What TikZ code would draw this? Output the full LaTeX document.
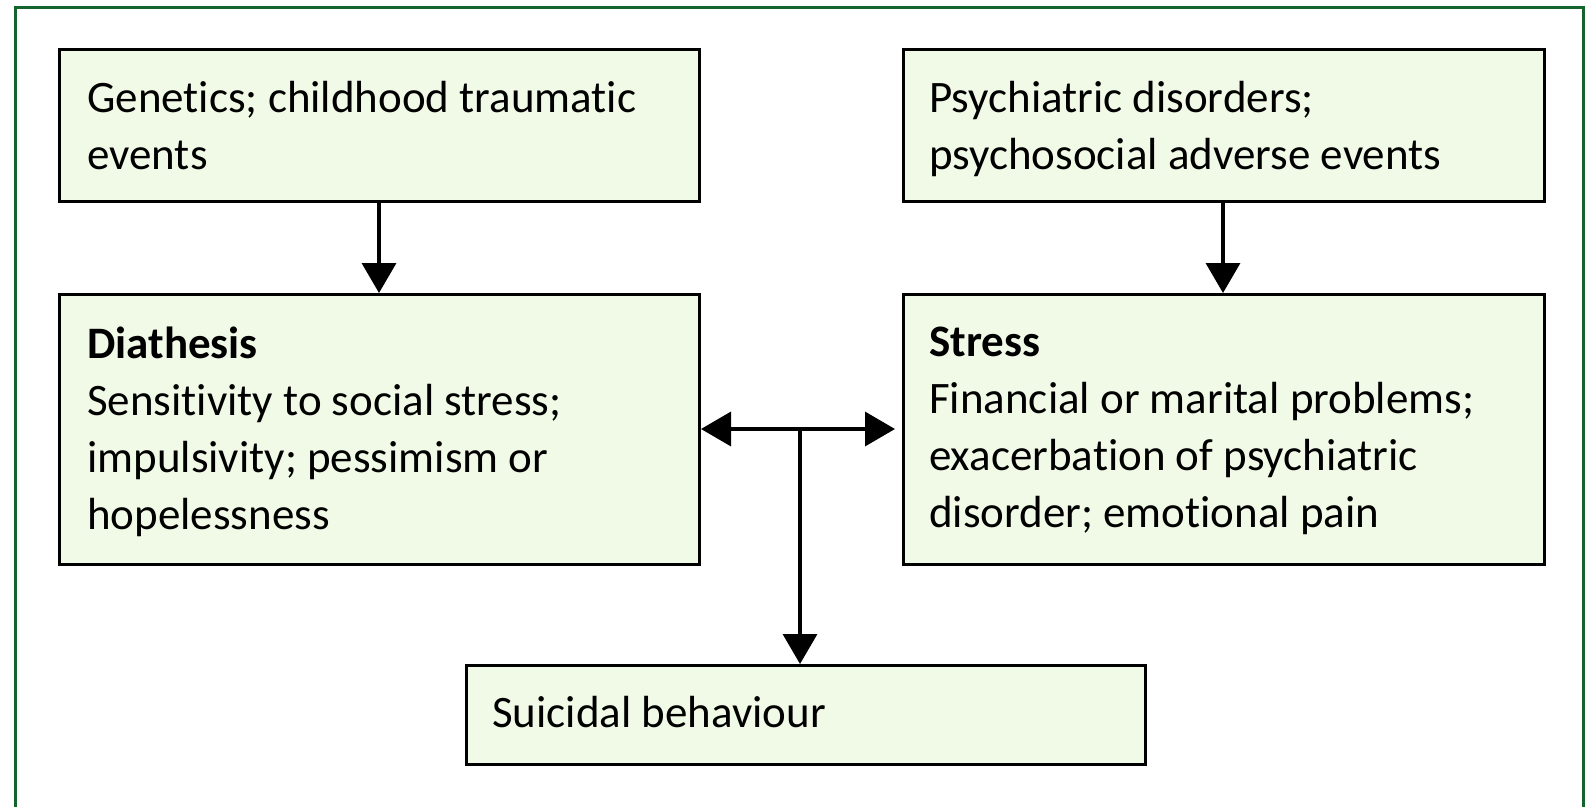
\documentclass[tikz,border=0pt]{standalone}
\usepackage{fontspec}
\setmainfont{Carlito}[Ligatures=NoCommon]
\usetikzlibrary{arrows.meta}
\definecolor{framegreen}{RGB}{20,100,45}
\definecolor{boxfill}{RGB}{240,250,230}
\tikzset{
  box/.style={draw=black, line width=3pt, fill=boxfill, inner sep=0pt, anchor=north west},
  txt/.style={font=\fontsize{45}{57}\selectfont, align=left, inner sep=0pt, anchor=north west,
    text=black, execute at begin node={\rule{0pt}{40pt}}},
  arr/.style={line width=3.5pt, -{Triangle[length=30pt, width=34pt]}},
}
\begin{document}
\begin{tikzpicture}[x=1pt, y=-1pt]
\useasboundingbox (0,0) rectangle (1587,806);
\clip (0,0) rectangle (1587,806);
\fill[white] (0,0) rectangle (1587,806);
\draw[framegreen, line width=3pt] (15,7) rectangle (1583,840);
\node[box, minimum width=640pt, minimum height=152pt] (b1) at (58,48) {};
\node[box, minimum width=641pt, minimum height=152pt] (b2) at (902,48) {};
\node[box, minimum width=640pt, minimum height=270pt] (b3) at (58,293) {};
\node[box, minimum width=641pt, minimum height=270pt] (b4) at (902,293) {};
\node[box, minimum width=679pt, minimum height=99pt] (b5) at (465,664) {};
\node[txt] (t1) at ([shift={(29pt,-33pt)}]b1.north west) {Genetics; childhood traumatic\\events};
\node[txt] (t2) at ([shift={(27pt,-33pt)}]b2.north west) {Psychiatric disorders;\\psychosocial adverse events};
\node[txt] (t3) at ([shift={(29pt,-34pt)}]b3.north west) {\textbf{Diathesis}\\Sensitivity to social stress;\\impulsivity; pessimism or\\hopelessness};
\node[txt] (t4) at ([shift={(27pt,-34pt)}]b4.north west) {\textbf{Stress}\\Financial or marital problems;\\exacerbation of psychiatric\\disorder; emotional pain};
\node[txt] (t5) at ([shift={(27pt,-23pt)}]b5.north west) {Suicidal behaviour};
\coordinate (hub) at (800,429);
\draw[arr] (b1.south -| 379,0) -- (b3.north -| 379,0);
\draw[arr] (b2.south -| 1223,0) -- (b4.north -| 1223,0);
\draw[arr] (hub) -- (b3.east |- hub);
\draw[arr, shorten >=7pt] (hub) -- (b4.west |- hub);
\draw[arr] (hub) -- (b5.north -| hub);
\end{tikzpicture}
\end{document}
